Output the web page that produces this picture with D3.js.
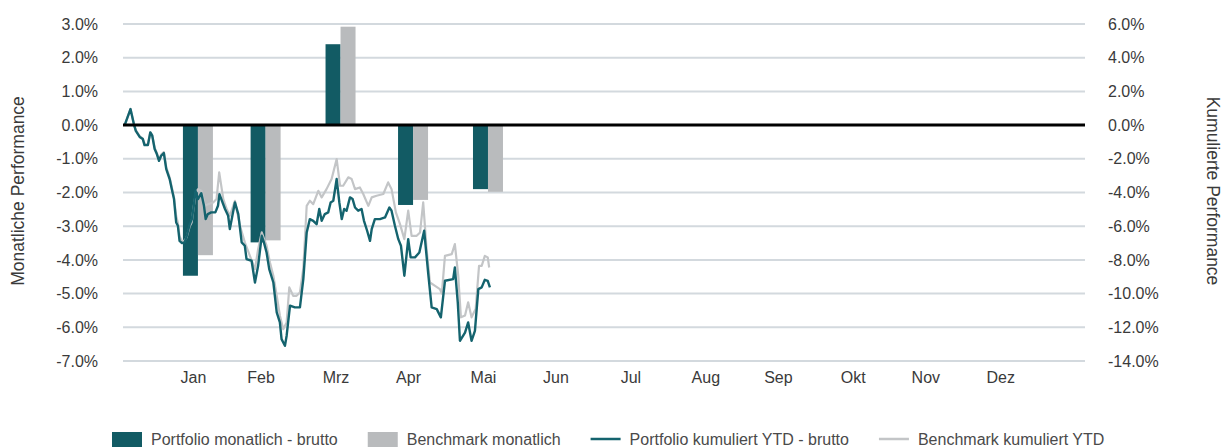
<!DOCTYPE html>
<html>
<head>
<meta charset="utf-8">
<script src="https://cdn.jsdelivr.net/npm/d3@7"></script>
<style>
	body { margin: 0; background: #fff; }
	svg { display: block; font-family: "Liberation Sans", Arial, Helvetica, sans-serif; }
	.tick-label { font-size: 16px; fill: #3a3a3a; }
	.legend text { font-size: 16px; fill: #4a4a4a; }
</style>
</head>
<body>
<svg id="chart" width="1227" height="447"></svg>
<script>
// Monatswerte (in %), jeweils am Monatsende
var monate = ['Jan', 'Feb', 'Mrz', 'Apr', 'Mai', 'Jun', 'Jul', 'Aug', 'Sep', 'Okt', 'Nov', 'Dez'];
var portfolioMonat = [-4.47, -3.48, 2.40, -2.37, -1.90];
var benchmarkMonat = [-3.86, -3.42, 2.92, -2.22, -1.98];

var linksTicks = [3, 2, 1, 0, -1, -2, -3, -4, -5, -6, -7];
var rechtsTicks = [6, 4, 2, 0, -2, -4, -6, -8, -10, -12, -14];

// Kumuliert YTD: Tag im Jahr / Wert in %
var portfolioTage = [0.7, 3.1, 4.5, 5.3, 6.9, 8.2, 8.9, 10.3, 11.3, 12.1, 13.1, 14.0, 14.9, 15.8, 16.9, 17.9, 19.3, 20.2, 21.1, 22.0,
	22.7, 23.4, 24.4, 25.5, 26.4, 27.6, 28.5, 29.3, 30.0, 31.0, 32.4, 33.5, 34.2, 35.1, 36.5, 38.2, 39.3, 39.9, 42.2, 43.5,
	44.2, 46.3, 47.7, 49.1, 50.4, 51.1, 53.2, 54.6, 55.9, 57.4, 58.3, 59.4, 60.5, 62.2, 63.6, 64.9, 65.6, 67.0, 67.7, 69.1,
	71.1, 73.2, 74.6, 76.0, 77.3, 78.7, 80.1, 81.2, 82.2, 83.5, 84.9, 85.9, 87.0, 88.4, 89.5, 90.5, 91.5, 92.5, 93.9, 95.0,
	96.0, 97.3, 98.7, 99.7, 101.0, 102.2, 102.9, 104.2, 106.3, 108.4, 110.2, 111.1, 112.5, 113.9, 115.0, 116.4, 118.0, 119.0, 120.8, 122.6,
	124.6, 126.3, 127.7, 129.8, 131.5, 133.2, 136.6, 137.3, 138.5, 139.4, 141.5, 142.8, 144.2, 145.6, 147.0, 148.4, 149.7, 150.9, 151.8];
var portfolioWerte = [0.0, 0.95, 0.06, -0.34, -0.70, -0.83, -1.19, -1.19, -0.43, -0.63, -1.42, -1.72, -2.12, -1.82, -1.66, -2.61, -3.20, -3.80, -4.39, -5.78,
	-5.97, -6.87, -7.00, -6.96, -6.57, -5.88, -5.58, -4.79, -3.90, -4.39, -4.04, -4.79, -5.58, -5.28, -5.18, -5.18, -4.79, -4.10, -4.98, -5.38,
	-6.17, -4.59, -5.28, -6.96, -7.16, -7.95, -8.05, -9.34, -8.35, -6.57, -6.96, -7.56, -8.55, -9.34, -11.12, -11.71, -12.70, -13.10, -12.50, -10.72,
	-10.82, -10.82, -9.14, -6.37, -5.58, -5.68, -5.88, -4.98, -5.68, -5.28, -5.18, -4.59, -4.49, -3.20, -4.59, -5.58, -4.98, -5.08, -4.29, -4.39,
	-4.89, -5.08, -4.98, -5.68, -6.27, -6.87, -6.17, -5.58, -5.58, -5.48, -4.89, -5.08, -5.97, -6.77, -7.16, -8.94, -6.77, -7.85, -7.85, -7.56,
	-6.27, -8.84, -10.82, -10.92, -11.41, -9.24, -9.14, -8.45, -10.52, -12.80, -12.31, -11.71, -12.80, -12.21, -9.73, -9.63, -9.18, -9.24, -9.63];

var benchmarkTage = [0.7, 3.1, 4.5, 5.3, 6.9, 8.2, 8.9, 10.3, 11.3, 12.1, 13.1, 14.0, 14.9, 15.8, 16.9, 17.9, 19.3, 20.2, 21.1, 22.0,
	22.7, 23.4, 24.4, 25.5, 26.3, 27.6, 28.4, 29.3, 30.2, 31.1, 32.5, 33.9, 35.3, 37.3, 38.7, 39.8, 41.5, 42.9, 44.2, 46.3,
	48.4, 50.4, 52.5, 54.6, 55.9, 57.4, 59.4, 60.8, 62.2, 63.6, 64.9, 66.3, 67.7, 68.8, 70.4, 71.8, 73.2, 74.6, 76.0, 77.3,
	78.7, 80.8, 82.2, 84.2, 86.3, 88.4, 89.8, 91.1, 93.2, 94.6, 96.0, 98.0, 99.4, 101.5, 102.9, 104.9, 107.7, 109.7, 111.1, 112.9,
	114.6, 116.4, 118.0, 119.4, 121.5, 122.9, 124.2, 125.6, 127.0, 129.1, 131.1, 131.9, 133.2, 136.0, 137.3, 138.7, 139.8, 141.5, 142.8, 144.2,
	145.9, 147.3, 148.4, 149.7, 150.9, 151.5];
var benchmarkWerte = [0.0, 0.95, 0.06, -0.30, -0.65, -0.80, -1.10, -1.15, -0.43, -0.60, -1.35, -1.65, -2.05, -1.75, -1.60, -2.50, -3.10, -3.70, -4.30, -5.40,
	-5.80, -6.60, -6.90, -6.85, -6.67, -6.00, -5.78, -4.80, -3.99, -3.80, -3.90, -4.79, -4.69, -4.59, -4.39, -2.81, -4.39, -4.98, -5.38, -4.49,
	-5.97, -6.96, -7.76, -8.55, -7.36, -6.37, -7.16, -8.15, -8.94, -10.13, -11.30, -12.11, -11.71, -9.63, -10.13, -10.13, -9.93, -8.50, -4.79, -4.49,
	-4.69, -3.90, -4.29, -3.80, -3.20, -2.02, -3.60, -3.60, -3.10, -3.20, -3.80, -3.70, -4.09, -4.79, -4.29, -4.19, -4.09, -3.40, -3.80, -5.18,
	-5.88, -6.77, -5.08, -6.57, -6.57, -6.37, -4.59, -7.36, -9.34, -9.54, -9.73, -10.00, -7.76, -7.66, -7.06, -8.94, -11.41, -11.30, -10.52, -11.41,
	-10.92, -8.35, -8.35, -7.76, -7.85, -8.45];

var farbe = { portfolio: '#125b64', benchmark: '#b9bbbd', portfolioLinie: '#14636e', benchmarkLinie: '#c3c5c7', grid: '#d3d9de' };

var jahrStart = new Date(2021, 11, 31);
function tagZuDatum(d) { return new Date(jahrStart.getTime() + d * 864e5); }
function monatsEnde(i) { return new Date(2022, i + 1, 0); }
function prozent(d) { return d.toFixed(1) + '%'; }

var svg = d3.select('#chart'),
	pLinks = 123, pRechts = 1085, pOben = 24, pUnten = 361;

var x = d3.scaleTime().domain([jahrStart, tagZuDatum(398)]).range([pLinks, pRechts]);
var yL = d3.scaleLinear().domain([-7, 3]).range([pUnten, pOben]);
var yR = d3.scaleLinear().domain([-14, 6]).range([pUnten, pOben]);
var serie = d3.scaleBand().domain(['p', 'b']).range([-15, 15]);

// Gitterlinien
svg.append('g').attr('class', 'grid').selectAll('line')
	.data(linksTicks.filter(function (d) { return d !== 0; })).enter().append('line')
	.attr('x1', pLinks).attr('x2', pRechts)
	.attr('y1', function (d) { return yL(d); }).attr('y2', function (d) { return yL(d); })
	.style('stroke', farbe.grid).style('stroke-width', 2);

// Achsenbeschriftungen links / rechts
var axL = svg.append('g').attr('transform', 'translate(98,0)')
	.call(d3.axisLeft(yL).tickValues(linksTicks).tickSize(0).tickPadding(0).tickFormat(prozent));
axL.select('.domain').remove();
axL.selectAll('text').attr('class', 'tick-label').attr('font-family', null).attr('font-size', null).attr('fill', null);

var axR = svg.append('g').attr('transform', 'translate(1108,0)')
	.call(d3.axisRight(yR).tickValues(rechtsTicks).tickSize(0).tickPadding(0).tickFormat(prozent));
axR.select('.domain').remove();
axR.selectAll('text').attr('class', 'tick-label').attr('font-family', null).attr('font-size', null).attr('fill', null);

// Monate
var axX = svg.append('g').attr('transform', 'translate(-5,' + (pUnten + 16) + ')')
	.call(d3.axisBottom(x).tickValues(monate.map(function (m, i) { return monatsEnde(i); }))
		.tickSize(0).tickPadding(0).tickFormat(function (d, i) { return monate[i]; }));
axX.select('.domain').remove();
axX.selectAll('text').attr('class', 'tick-label').attr('font-family', null).attr('font-size', null).attr('fill', null).attr('dy', '0.35em');

svg.append('text').attr('class', 'tick-label')
	.attr('transform', 'translate(18,191) rotate(-90)')
	.attr('text-anchor', 'middle').attr('dy', '0.35em')
	.style('font-size', '17.5px').text('Monatliche Performance');
svg.append('text').attr('class', 'tick-label')
	.attr('transform', 'translate(1213,191) rotate(90)')
	.attr('text-anchor', 'middle').attr('dy', '0.35em')
	.style('font-size', '17.5px').text('Kumulierte Performance');

// Balken
var balken = [];
portfolioMonat.forEach(function (v, i) { balken.push({ s: 'p', m: i, v: v }); balken.push({ s: 'b', m: i, v: benchmarkMonat[i] }); });
svg.append('g').attr('class', 'bars').selectAll('rect').data(balken).enter().append('rect')
	.attr('x', function (d) { return x(monatsEnde(d.m)) + serie(d.s); })
	.attr('width', serie.bandwidth())
	.attr('y', function (d) { return yL(Math.max(0, d.v)); })
	.attr('height', function (d) { return Math.abs(yL(d.v) - yL(0)); })
	.style('fill', function (d) { return d.s === 'p' ? farbe.portfolio : farbe.benchmark; });

// Linien
var linie = d3.line()
	.x(function (d) { return x(tagZuDatum(d[0])); })
	.y(function (d) { return yR(d[1]); });
svg.append('path').datum(d3.zip(benchmarkTage, benchmarkWerte))
	.attr('d', linie).style('fill', 'none').style('stroke', farbe.benchmarkLinie).style('stroke-width', 2.2)
	.style('stroke-linejoin', 'round');
svg.append('path').datum(d3.zip(portfolioTage, portfolioWerte))
	.attr('d', linie).style('fill', 'none').style('stroke', farbe.portfolioLinie).style('stroke-width', 2.4)
	.style('stroke-linejoin', 'round');

// Nulllinie
svg.append('line').attr('x1', pLinks).attr('x2', pRechts).attr('y1', yL(0)).attr('y2', yL(0))
	.style('stroke', '#000').style('stroke-width', 3);

// Legende
var legende = [
	{ name: 'Portfolio monatlich - brutto', typ: 'rect', c: farbe.portfolio },
	{ name: 'Benchmark monatlich', typ: 'rect', c: farbe.benchmark },
	{ name: 'Portfolio kumuliert YTD - brutto', typ: 'line', c: farbe.portfolioLinie },
	{ name: 'Benchmark kumuliert YTD', typ: 'line', c: farbe.benchmarkLinie }
];
var lg = svg.append('g').attr('class', 'legend'), lx = 112;
legende.forEach(function (l) {
	if (l.typ === 'rect') {
		lg.append('rect').attr('x', lx).attr('y', 432).attr('width', 30).attr('height', 16).style('fill', l.c);
	} else {
		lg.append('line').attr('x1', lx).attr('x2', lx + 30).attr('y1', 439).attr('y2', 439)
			.style('stroke', l.c).style('stroke-width', 2.5);
	}
	var t = lg.append('text').attr('x', lx + 39).attr('y', 445).text(l.name);
	lx += 39 + t.node().getComputedTextLength() + 30;
});
</script>
</body>
</html>
